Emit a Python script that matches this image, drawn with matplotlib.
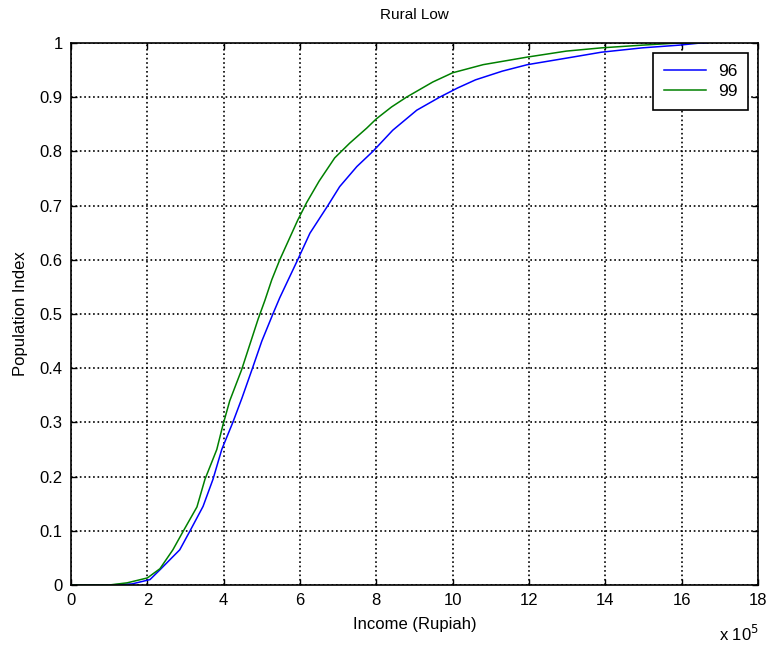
import numpy as np
import matplotlib.pyplot as plt

plt.rcParams['font.family'] = ['Liberation Sans', 'DejaVu Sans']

# Income (x 10^5 Rupiah) vs cumulative population share
inc_96 = [0, 1.0, 1.6, 2.07, 2.33, 2.85, 3.12, 3.46, 3.72, 3.95, 4.24, 4.48, 4.74,
          5.0, 5.29, 5.47, 5.94, 6.26, 6.73, 7.04, 7.49, 7.91, 8.43, 9.06, 9.66,
          10.13, 10.6, 11.3, 11.96, 12.98, 13.9, 14.97, 15.94, 16.5, 16.65]
pop_96 = [0, 0, 0.002, 0.01, 0.028, 0.065, 0.10, 0.145, 0.195, 0.25, 0.30, 0.345, 0.397,
          0.45, 0.50, 0.53, 0.60, 0.649, 0.70, 0.735, 0.772, 0.80, 0.839, 0.876, 0.90,
          0.917, 0.932, 0.948, 0.96, 0.972, 0.983, 0.991, 0.996, 1.0, 1.0]

inc_99 = [0, 1.0, 1.47, 2.0, 2.33, 2.67, 2.93, 3.3, 3.51, 3.82, 3.98, 4.16, 4.47,
          4.9, 5.08, 5.26, 5.47, 5.94, 6.17, 6.5, 6.91, 7.3, 7.75, 8.0, 8.4, 8.79,
          9.48, 10.0, 10.8, 11.96, 12.98, 13.9, 14.97, 15.94, 16.4]
pop_99 = [0, 0, 0.004, 0.013, 0.03, 0.065, 0.098, 0.144, 0.195, 0.25, 0.295, 0.34, 0.397,
          0.49, 0.525, 0.563, 0.60, 0.673, 0.705, 0.745, 0.788, 0.815, 0.843, 0.86, 0.882,
          0.90, 0.928, 0.945, 0.96, 0.974, 0.985, 0.991, 0.996, 1.0, 1.0]

fig = plt.figure(figsize=(7.7, 6.54), dpi=100)
ax = fig.add_axes([0.0922, 0.1055, 0.8922, 0.8288])

ax.plot(inc_96, pop_96, color=(0, 0, 1), lw=1.1, label='96')
ax.plot(inc_99, pop_99, color=(0, 0.5, 0), lw=1.1, label='99')

ax.set_xlim(0, 18)
ax.set_ylim(0, 1)
ax.set_xticks(np.arange(0, 19, 2))
ax.set_yticks(np.arange(0, 1.01, 0.1))
ax.set_yticklabels(['0', '0.1', '0.2', '0.3', '0.4', '0.5', '0.6', '0.7', '0.8', '0.9', '1'])
ax.grid(True, color='black', linestyle=':', lw=1.2)
ax.tick_params(direction='in', top=True, right=True, labelsize=12, length=4, width=1,
               pad=6)
for s in ax.spines.values():
    s.set_linewidth(1.2)

ax.set_title('Rural Low', fontsize=11, pad=17)
ax.set_xlabel('Income (Rupiah)', fontsize=12, labelpad=6)
ax.set_ylabel('Population Index', fontsize=12, labelpad=8)
fig.text(0.96, 0.016, 'x 10$^5$', fontsize=12, ha='center', va='bottom')

leg = ax.legend(loc='upper right', fontsize=12.5, frameon=True, fancybox=False,
                edgecolor='black', framealpha=1, borderaxespad=0.6, handlelength=2.4,
                handletextpad=0.7, borderpad=0.6, labelspacing=0.3)
leg.get_frame().set_linewidth(1.2)

fig.savefig('out.png', dpi=100)
